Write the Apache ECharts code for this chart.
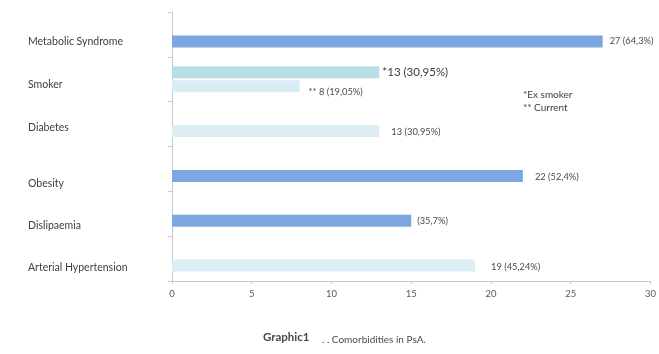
<!DOCTYPE html>
<html>
<head>
<meta charset="utf-8">
<style>
  html, body { margin: 0; padding: 0; background: #ffffff; }
  #chart { width: 659px; height: 354px; }
</style>
<script src="https://cdn.jsdelivr.net/npm/echarts@6/dist/echarts.min.js"></script>
</head>
<body>
<div id="chart"></div>
<script>
// Comorbidities in PsA, listed top to bottom
const categories = ['Metabolic Syndrome', 'Smoker', 'Diabetes', 'Obesity', 'Dislipaemia', 'Arterial Hypertension'];
// patient counts (lower bar in each row; for Smoker this is the current smokers)
const counts = [27, 8, 13, 22, 15, 19];
const countLabels = ['27 (64,3%)', '** 8 (19,05%)', '13 (30,95%)', '22 (52,4%)', '(35,7%)', '19 (45,24%)'];
// ex smokers (upper bar in the Smoker row only)
const exSmokers = [null, 13, null, null, null, null];
const exSmokerLabels = ['', '*13 (30,95%)', '', '', '', ''];
const xTicks = [0, 5, 10, 15, 20, 25, 30];

const FONT = 'Lato, "Open Sans", sans-serif';
const DARK_BLUE = '#7ca6df';
const PALE_BLUE = '#dcedf4';
const barColors = [DARK_BLUE, '#d7edf3', PALE_BLUE, DARK_BLUE, DARK_BLUE, PALE_BLUE];
const labelOffsets = [[2, 0], [4, 6], [7, 1], [7, 1], [1, 0], [11, 1]];
// vertical nudges of the category names (rich-text padding)
const namePads = [[14, 0, 0, 0], [10, 0, 0, 0], [8, 0, 0, 0], [30, 0, 0, 0], [23, 0, 0, 0], [19, 0, 0, 0]];

const chart = echarts.init(document.getElementById('chart'), null, { renderer: 'canvas' });

const rich = {};
namePads.forEach((p, i) => {
  rich['n' + i] = { padding: p, fontSize: 10.5, color: '#404040', fontFamily: FONT };
});

chart.setOption({
  backgroundColor: '#ffffff',
  animation: false,
  grid: { left: 172, right: 7, top: 12, bottom: 73, containLabel: false },
  xAxis: {
    type: 'value',
    min: xTicks[0],
    max: xTicks[xTicks.length - 1],
    interval: xTicks[1] - xTicks[0],
    splitLine: { show: false },
    axisLine: { show: true, lineStyle: { color: '#c9c9c9', width: 1 } },
    axisTick: { show: true, length: 3, lineStyle: { color: '#c9c9c9' } },
    axisLabel: { color: '#5a5a5a', fontSize: 9.5, fontFamily: FONT, margin: 8 }
  },
  yAxis: {
    type: 'category',
    data: categories,
    inverse: true,
    axisLine: { show: true, lineStyle: { color: '#c9c9c9', width: 1 } },
    axisTick: { show: true, length: 4, lineStyle: { color: '#c9c9c9' } },
    axisLabel: {
      align: 'left',
      margin: 144,
      formatter: (v, i) => '{n' + i + '|' + v + '}',
      rich: rich
    }
  },
  series: [
    {
      name: 'Ex smoker',
      type: 'bar',
      barWidth: 12,
      barGap: '16%',
      data: exSmokers.map((v, i) => ({
        value: v,
        itemStyle: { color: '#b6dfe8' },
        label: {
          show: v !== null,
          position: 'right',
          distance: 3,
          formatter: () => exSmokerLabels[i],
          fontSize: 11.5,
          color: '#3a3a3a',
          fontFamily: FONT
        }
      }))
    },
    {
      name: 'Patients',
      type: 'bar',
      barWidth: 12,
      barGap: '16%',
      data: counts.map((v, i) => ({
        value: v,
        itemStyle: { color: barColors[i] },
        label: {
          show: true,
          position: 'right',
          distance: 5,
          offset: labelOffsets[i],
          formatter: () => countLabels[i],
          fontSize: 9.3,
          color: '#4a4a4a',
          fontFamily: FONT
        }
      }))
    }
  ],
  graphic: [
    { type: 'text', left: 523, top: 90, style: { text: '*Ex smoker', fontSize: 10, fill: '#404040', fontFamily: FONT } },
    { type: 'text', left: 523, top: 103, style: { text: '** Current', fontSize: 10, fill: '#404040', fontFamily: FONT } },
    { type: 'text', left: 263, top: 331, style: { text: 'Graphic1', fontSize: 11.5, fontWeight: 'bold', fill: '#4a4a4a', fontFamily: FONT } },
    { type: 'text', left: 322, top: 335, style: { text: '. . Comorbidities in PsA.', fontSize: 10, fill: '#4a4a4a', fontFamily: FONT } }
  ]
});
</script>
</body>
</html>
